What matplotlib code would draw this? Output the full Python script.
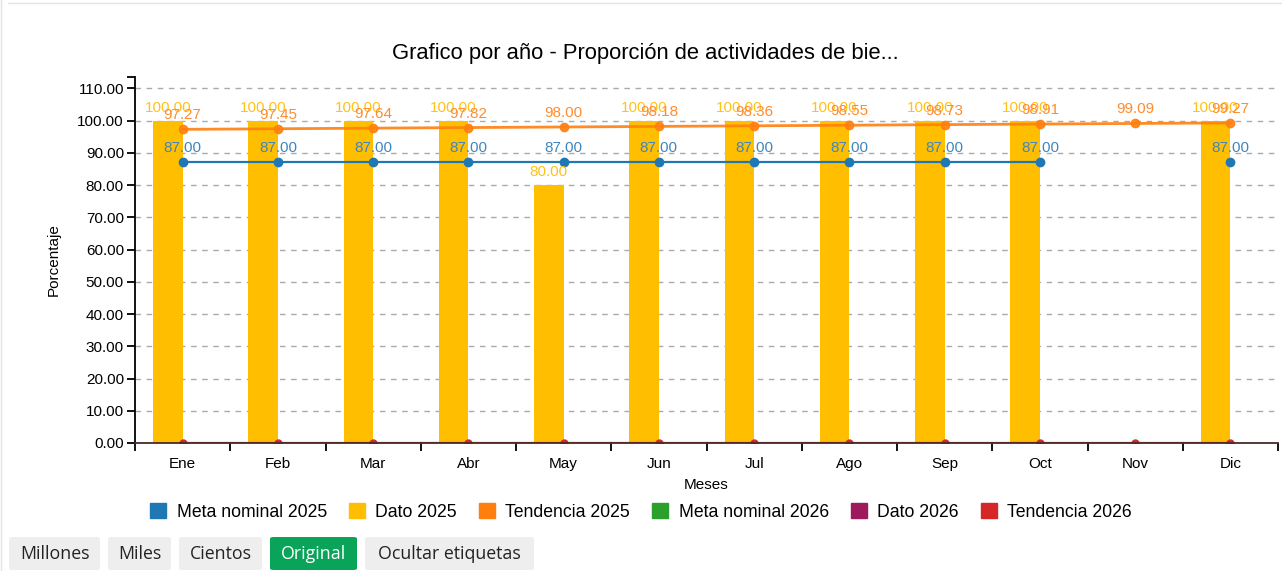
import numpy as np
import matplotlib
matplotlib.use("Agg")
import matplotlib.pyplot as plt
from matplotlib.patches import FancyBboxPatch, Patch
from matplotlib.lines import Line2D

plt.rcParams['font.family'] = ['Liberation Sans', 'DejaVu Sans']

# data
meses = ['Ene', 'Feb', 'Mar', 'Abr', 'May', 'Jun', 'Jul', 'Ago', 'Sep', 'Oct', 'Nov', 'Dic']
meta_2025 = [87, 87, 87, 87, 87, 87, 87, 87, 87, 87, np.nan, 87]
dato_2025 = [100, 100, 100, 100, 80, 100, 100, 100, 100, 100, np.nan, 100]
tend_2025 = [97.27, 97.45, 97.64, 97.82, 98.00, 98.18, 98.36, 98.55, 98.73, 98.91, 99.09, 99.27]
meta_2026 = [np.nan] * 12
dato_2026 = [0] * 12
tend_2026 = [0] * 12
yticks = [0, 10, 20, 30, 40, 50, 60, 70, 80, 90, 100, 110]

c_meta25 = '#1f77b4'
c_dato25 = '#ffbf00'
c_tend25 = '#ff7f0e'
c_meta26 = '#2ca02c'
c_dato26 = '#9e1a5c'
c_tend26 = '#d62728'

fig = plt.figure(figsize=(12.82, 5.71), dpi=100)
ax = fig.add_axes([135 / 1282, 1 - 443 / 571, (1278 - 135) / 1282, (443 - 77) / 571])

x = np.arange(len(meses))
bw = 0.31

ax.bar(x - bw / 2, dato_2025, width=bw, color=c_dato25, zorder=2)
ax.bar(x + bw / 2, dato_2026, width=bw, color=c_dato26, zorder=2)

ax.plot(x, meta_2025, color=c_meta25, lw=1.6, marker='o', ms=6, zorder=3)
ax.plot(x, tend_2025, color=c_tend25, lw=2, marker='o', ms=6, alpha=0.9, zorder=3)
ax.plot(x, meta_2026, color=c_meta26, lw=1.6, marker='o', ms=6, zorder=3)
ax.plot(x, tend_2026, color=c_tend26, lw=1.6, marker='o', ms=5, zorder=2.4)

# data labels
for i in range(len(meses)):
    if not np.isnan(dato_2025[i]):
        ax.annotate(f'{dato_2025[i]:.2f}', (x[i] - bw / 2, dato_2025[i]), xytext=(0, 6),
                    textcoords='offset pixels', ha='center', va='bottom', fontsize=11,
                    color='#ffc21a', zorder=5)
    if not np.isnan(tend_2025[i]):
        ax.annotate(f'{tend_2025[i]:.2f}', (x[i], tend_2025[i]), xytext=(0, 7),
                    textcoords='offset pixels', ha='center', va='bottom', fontsize=11,
                    color='#ff8c2e', zorder=5)
    if not np.isnan(meta_2025[i]):
        ax.annotate(f'{meta_2025[i]:.2f}', (x[i], meta_2025[i]), xytext=(0, 7),
                    textcoords='offset pixels', ha='center', va='bottom', fontsize=11,
                    color='#3f86bd', zorder=5)

top = 113.5
ax.set_xlim(-0.5, len(meses) - 0.5)
ax.set_ylim(0, top)

ax.set_yticks(yticks + [top])
ax.set_yticklabels([f'{v:.2f}' for v in yticks] + [''], fontsize=11)
ax.set_xticks(np.arange(-0.5, len(meses)), labels=[''] * (len(meses) + 1))
ax.set_xticks(x, labels=meses, minor=True, fontsize=11)
ax.tick_params(axis='x', which='major', length=6, width=1.3, direction='out')
ax.tick_params(axis='x', which='minor', length=0, pad=10)
ax.tick_params(axis='y', length=6, width=1.3, direction='out', pad=2)

for v in yticks[1:]:
    ax.axhline(v, color='#aaaaaa', lw=1, ls=(0, (4, 4)), zorder=1)

for s in ['top', 'right']:
    ax.spines[s].set_visible(False)
ax.spines['left'].set_linewidth(1.3)
ax.spines['bottom'].set_linewidth(1.3)
ax.spines['bottom'].set_color('#4a2a2a')

ax.set_ylabel('Porcentaje', fontsize=11, labelpad=12)
ax.set_xlabel('Meses', fontsize=11, labelpad=5)
fig.text(645 / 1282, 1 - 53 / 571, 'Grafico por año - Proporción de actividades de bie...',
         ha='center', va='center', fontsize=15.8)

handles = [Patch(color=c) for c in [c_meta25, c_dato25, c_tend25, c_meta26, c_dato26, c_tend26]]
labels = ['Meta nominal 2025', 'Dato 2025', 'Tendencia 2025', 'Meta nominal 2026', 'Dato 2026', 'Tendencia 2026']
fig.legend(handles, labels, loc='center', bbox_to_anchor=(641 / 1282, 1 - 512 / 571), ncol=6,
           frameon=False, fontsize=12.7, handlelength=0.9, handleheight=0.9,
           handletextpad=0.6, columnspacing=1.25)

# buttons under the chart
buttons = [('Millones', 9, 100), ('Miles', 108, 171), ('Cientos', 179, 262),
           ('Original', 270, 357), ('Ocultar etiquetas', 365, 534)]
for name, x0, x1 in buttons:
    active = name == 'Original'
    fc = '#0aa35a' if active else '#eeeeee'
    tc = 'white' if active else '#222222'
    fig.patches.append(FancyBboxPatch((x0 / 1282, 1 - 570 / 571), (x1 - x0) / 1282, 33 / 571,
                                      boxstyle='round,pad=0,rounding_size=0.003',
                                      transform=fig.transFigure, facecolor=fc, edgecolor='none'))
    fig.text((x0 + x1) / 2 / 1282, 1 - 554 / 571, name, ha='center', va='center',
             fontsize=12.8, color=tc, family=['Open Sans', 'DejaVu Sans'])

fig.add_artist(Line2D([8 / 1282, 1], [1 - 3 / 571, 1 - 3 / 571], color='#e4e4e4', lw=1))
fig.add_artist(Line2D([1 / 1282, 1 / 1282], [0, 1], color='#e4e4e4', lw=1))

fig.savefig('out.png', dpi=100)
